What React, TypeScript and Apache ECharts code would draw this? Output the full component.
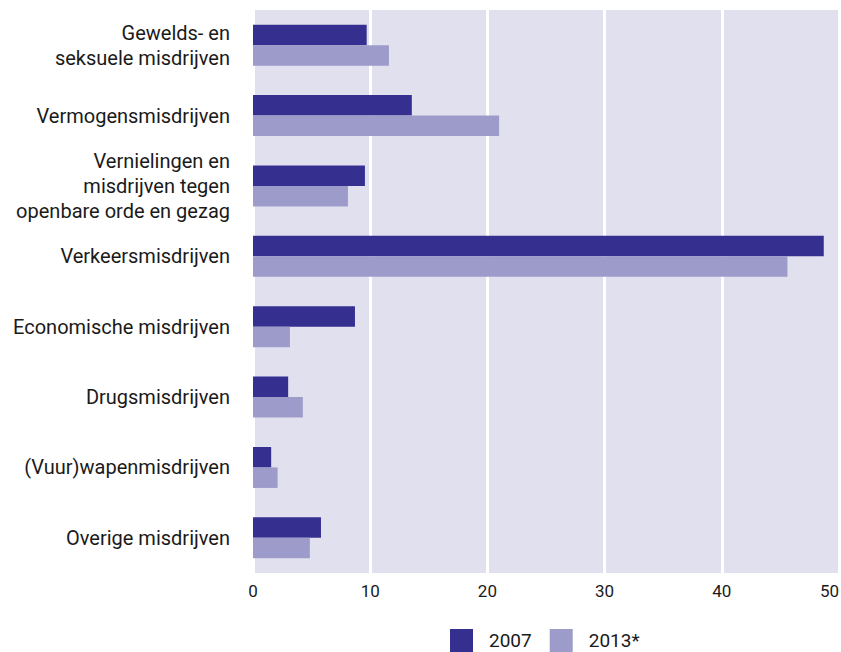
import React, { useEffect, useRef } from "react";
import * as echarts from "echarts";

const categories = [
  "Gewelds- en\nseksuele misdrijven",
  "Vermogensmisdrijven",
  "Vernielingen en\nmisdrijven tegen\nopenbare orde en gezag",
  "Verkeersmisdrijven",
  "Economische misdrijven",
  "Drugsmisdrijven",
  "(Vuur)wapenmisdrijven",
  "Overige misdrijven",
];
const values2007 = [9.7, 13.55, 9.55, 48.7, 8.7, 3.0, 1.55, 5.8];
const values2013 = [11.6, 21.0, 8.1, 45.6, 3.15, 4.25, 2.1, 4.85];
const seriesNames = ["2007", "2013*"];

export default function App() {
  const ref = useRef<HTMLDivElement>(null);
  useEffect(() => {
    if (!ref.current) return;
    const chart = echarts.init(ref.current, null, { renderer: "svg" });
    chart.setOption({
      animation: false,
      grid: {
        left: 253,
        right: 2,
        top: 10,
        bottom: 79,
        show: true,
        backgroundColor: "#e1e0ef",
        borderWidth: 0,
        containLabel: false,
        outerBoundsMode: "none",
      },
      legend: {
        left: 445,
        top: 624,
        padding: 5,
        itemWidth: 23,
        itemHeight: 23,
        itemGap: 18,
        icon: "rect",
        data: seriesNames,
        textStyle: { fontSize: 19, color: "#1a1a1a", fontFamily: "Roboto", padding: [0, 0, 0, 11] },
      },
      xAxis: {
        type: "value",
        min: 0,
        max: 50,
        interval: 10,
        axisLine: { show: false },
        axisTick: { show: false },
        splitLine: { show: true, lineStyle: { color: "#ffffff", width: 3 } },
        axisLabel: {
          fontSize: 17,
          color: "#1a1a1a",
          fontFamily: "Roboto",
          margin: 9,
          alignMaxLabel: "right",
        },
      },
      yAxis: {
        type: "category",
        inverse: true,
        data: categories,
        axisLine: { show: false },
        axisTick: { show: false },
        splitLine: { show: false },
        axisLabel: {
          fontSize: 20,
          color: "#1a1a1a",
          fontFamily: "Roboto",
          lineHeight: 25,
          margin: 23,
          align: "right",
          padding: [0, 0, 3, 0],
        },
      },
      series: [
        {
          name: seriesNames[0],
          type: "bar",
          data: values2007,
          barWidth: 20.5,
          barGap: "0%",
          itemStyle: { color: "#35308f" },
        },
        {
          name: seriesNames[1],
          type: "bar",
          data: values2013,
          barWidth: 20.5,
          barGap: "0%",
          itemStyle: { color: "#9d9bc9" },
        },
      ],
    });
    return () => chart.dispose();
  }, []);
  return <div ref={ref} style={{ width: 841, height: 652, position: "absolute", left: 0, top: 0 }} />;
}
